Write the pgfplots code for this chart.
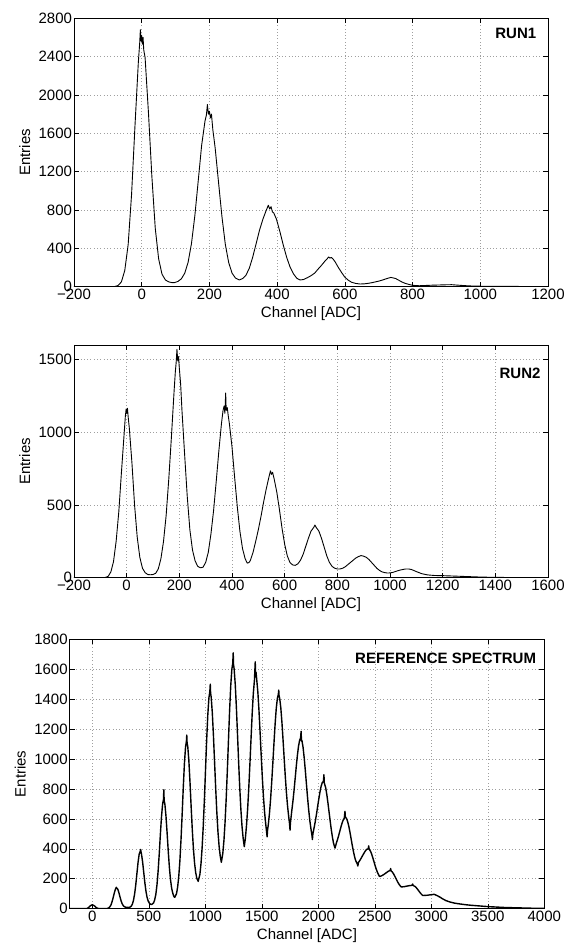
\documentclass[border=0pt]{standalone}
\usepackage{pgfplots}
\pgfplotsset{compat=1.18}
\usepackage{fontspec}
\setmainfont{Liberation Sans}
\newcommand{\fs}{\fontsize{15}{18}\selectfont}
\pgfplotsset{
 base/.style={
  scale only axis, anchor=south west,
  font=\fs,
  tick label style={font=\fs},
  label style={font=\fs},
  /pgf/number format/assume math mode=true,
  /pgf/number format/1000 sep={},
  scaled ticks=false,
  tick align=inside, major tick length=5pt,
  tick style={black, line width=0.6pt},
  axis line style={line width=0.8pt},
  grid=major,
  major grid style={gray!75, line width=0.6pt, dash pattern=on 0.7pt off 2.6pt},
  xticklabel style={yshift=1.5pt},
  yticklabel style={xshift=1.5pt},
  every axis x label/.style={at={(axis description cs:0.5,0)}, anchor=base, yshift=-31pt},
  every axis y label/.style={at={(axis description cs:-0.104,0.5)}, rotate=90, anchor=center},
  xlabel={Channel [ADC]}, ylabel={Entries},
 }
}
\begin{document}
\begin{tikzpicture}
\path[use as bounding box] (0,0) rectangle (566pt,943pt);
% ---------------- RUN1
\begin{axis}[base, at={(74pt,656.3pt)}, width=474pt, height=268.4pt,
  xmin=-200, xmax=1200, ymin=0, ymax=2800,
  xtick={-200,0,200,400,600,800,1000,1200},
  xticklabels={−200,0,200,400,600,800,1000,1200},
  ytick={0,400,800,1200,1600,2000,2400,2800}]
\addplot[black, line width=0.9pt, line join=round] coordinates {
(-200,0) (-90,0) (-80,2) (-70,12) (-60,50) (-50,170) (-40,440) (-30,960) (-20,1670) (-10,2340) (-6,2540) (-4,2680) (-2,2560) (0,2620) (2,2530) (4,2600) (6,2470) (10,2390) (20,1810) (30,1150) (40,610) (50,290) (60,130) (70,70) (80,50) (90,42) (97,43) (107,55) (117,82) (127,140) (137,254) (147,451) (157,743) (167,1107) (177,1475) (187,1730) (191,1790) (194,1900) (197,1800) (200,1830) (203,1760) (206,1800) (210,1640) (217,1445) (227,1085) (237,730) (247,440) (257,250) (267,140) (277,90) (288,70) (298,85) (308,120) (318,195) (328,310) (338,450) (348,590) (358,705) (366,780) (370,815) (374,850) (378,810) (382,835) (386,780) (390,770) (398,704) (408,576) (418,435) (428,308) (438,207) (448,135) (458,88) (468,70) (478,75) (490,95) (500,115) (511,142) (520,180) (531,223) (540,262) (548,292) (552,310) (556,298) (560,305) (566,285) (572,255) (580,205) (590,150) (600,99) (610,68) (620,46) (632,34) (645,28) (658,30) (669,35) (680,42) (690,50) (699,57) (710,68) (720,80) (729,90) (736,97) (742,92) (750,85) (758,70) (768,50) (778,35) (788,25) (798,16) (808,12) (820,10) (840,13) (860,16) (880,18) (900,20) (915,21) (930,17) (950,12) (970,8) (990,6) (1010,4) (1050,3) (1100,3) (1130,2) (1150,0) (1200,0)
};
\node[anchor=east, inner sep=0pt, font=\bfseries\fs] at (rel axis cs:0.9755,0.944) {RUN1};
\end{axis}
% ---------------- RUN2
\begin{axis}[base, at={(74pt,365.3pt)}, width=474pt, height=232.7pt,
  xmin=-200, xmax=1600, ymin=0, ymax=1600,
  xtick={-200,0,200,400,600,800,1000,1200,1400,1600},
  xticklabels={−200,0,200,400,600,800,1000,1200,1400,1600},
  ytick={0,500,1000,1500}]
\addplot[black, line width=0.9pt, line join=round] coordinates {
(-200,0) (-90,0) (-80,2) (-70,10) (-60,40) (-50,110) (-40,250) (-30,450) (-20,720) (-10,980) (-5,1110) (-2,1160) (0,1130) (3,1165) (6,1100) (10,1030) (20,790) (30,500) (40,280) (50,140) (60,65) (70,35) (80,22) (90,20) (100,22) (110,30) (120,60) (130,130) (140,250) (150,430) (160,680) (170,970) (180,1280) (185,1420) (188,1480) (191,1570) (194,1490) (197,1520) (200,1440) (205,1330) (210,1150) (220,850) (230,560) (240,330) (250,190) (260,115) (270,78) (280,68) (290,72) (300,105) (310,175) (320,300) (330,460) (340,660) (350,870) (360,1060) (366,1150) (370,1180) (373,1130) (376,1270) (378,1150) (382,1170) (386,1110) (390,1060) (400,900) (410,690) (420,490) (430,320) (440,200) (450,130) (458,100) (465,105) (470,120) (480,175) (490,250) (500,330) (510,420) (520,520) (530,610) (540,690) (546,735) (550,710) (554,725) (560,680) (570,590) (580,470) (590,340) (600,230) (610,150) (620,105) (630,88) (640,85) (650,95) (660,120) (670,160) (680,215) (690,270) (700,320) (710,345) (715,362) (720,345) (730,320) (740,270) (750,210) (760,150) (770,105) (780,78) (790,65) (800,60) (810,60) (820,65) (830,75) (840,90) (850,105) (860,120) (870,135) (880,145) (890,152) (900,148) (910,140) (920,125) (930,105) (940,85) (950,65) (960,50) (970,40) (980,35) (990,32) (1000,33) (1010,36) (1020,42) (1030,48) (1040,53) (1050,57) (1060,60) (1070,60) (1080,57) (1090,50) (1100,42) (1110,35) (1120,28) (1130,24) (1140,20) (1150,18) (1170,15) (1200,14) (1230,12) (1260,10) (1290,8) (1320,6) (1350,4) (1380,3) (1420,2) (1460,1) (1500,1) (1550,0) (1600,0)
};
\node[anchor=east, inner sep=0pt, font=\bfseries\fs] at (rel axis cs:0.9846,0.878) {RUN2};
\end{axis}
% ---------------- REFERENCE SPECTRUM
\begin{axis}[base, at={(69.7pt,34.3pt)}, width=474.6pt, height=269.4pt,
  xmin=-200, xmax=4000, ymin=0, ymax=1800,
  xtick={0,500,1000,1500,2000,2500,3000,3500,4000},
  ytick={0,200,400,600,800,1000,1200,1400,1600,1800}]
\addplot[black, line width=1.4pt, line join=round] coordinates {
(-200,0) (-60,0) (-50,1) (-40,4) (-30,10) (-20,18) (-10,23) (0,26) (10,23) (20,18) (30,11) (40,5) (50,2) (60,1) (80,0) (120,0) (135,2) (145,5) (155,12) (165,25) (175,47) (185,75) (195,106) (205,131) (213,143) (215,138) (225,131) (235,108) (245,79) (255,52) (265,32) (275,19) (285,13) (295,10) (305,9) (318,8) (335,11) (345,17) (355,31) (365,58) (375,101) (385,162) (395,236) (405,310) (415,365) (425,385) (428,396) (431,380) (435,366) (445,314) (455,244) (465,174) (475,116) (485,75) (495,50) (505,37) (515,30) (525,28) (542,38) (552,59) (562,95) (572,156) (582,246) (592,361) (602,491) (612,611) (622,698) (630,730) (633,795) (636,720) (642,701) (652,619) (662,507) (672,386) (682,278) (692,195) (702,138) (712,104) (722,82) (730,76) (745,100) (755,143) (765,214) (775,318) (785,460) (795,628) (805,808) (815,967) (825,1079) (833,1120) (836,1160) (839,1105) (845,1083) (855,983) (865,839) (875,677) (885,526) (895,399) (905,305) (915,241) (925,203) (937,183) (952,228) (962,301) (972,409) (982,553) (992,730) (1002,928) (1012,1125) (1022,1294) (1032,1409) (1040,1450) (1044,1500) (1047,1440) (1052,1414) (1062,1310) (1072,1158) (1082,981) (1092,804) (1102,645) (1112,515) (1122,418) (1132,353) (1142,310) (1155,370) (1165,456) (1175,579) (1185,736) (1195,922) (1205,1124) (1215,1322) (1225,1488) (1235,1600) (1243,1640) (1247,1710) (1250,1630) (1255,1603) (1265,1500) (1275,1347) (1285,1165) (1295,979) (1305,807) (1315,662) (1325,550) (1335,470) (1345,415) (1355,473) (1365,559) (1375,670) (1385,810) (1395,970) (1405,1141) (1415,1304) (1425,1439) (1435,1528) (1442,1650) (1445,1550) (1449,1580) (1455,1531) (1465,1449) (1475,1325) (1485,1176) (1495,1019) (1505,872) (1515,744) (1525,642) (1535,564) (1543,510) (1547,480) (1551,525) (1558,564) (1568,638) (1578,734) (1588,849) (1598,977) (1608,1110) (1618,1235) (1628,1339) (1638,1407) (1646,1430) (1650,1460) (1653,1420) (1658,1408) (1668,1344) (1678,1247) (1688,1129) (1698,1004) (1708,883) (1718,775) (1728,685) (1738,616) (1746,565) (1750,525) (1753,570) (1765,652) (1775,715) (1785,788) (1795,868) (1805,950) (1815,1025) (1825,1086) (1835,1126) (1843,1140) (1848,1185) (1851,1120) (1855,1124) (1865,1079) (1875,1010) (1885,925) (1895,833) (1905,742) (1915,660) (1925,589) (1935,533) (1944,490) (1948,462) (1952,500) (1965,549) (1975,590) (1985,637) (1995,687) (2005,736) (2015,781) (2025,818) (2035,842) (2045,850) (2050,895) (2053,840) (2065,810) (2075,765) (2085,709) (2095,648) (2105,586) (2115,528) (2125,478) (2135,437) (2148,405) (2160,439) (2170,462) (2180,488) (2190,517) (2200,545) (2210,571) (2220,592) (2230,605) (2236,650) (2240,610) (2250,603) (2260,582) (2270,551) (2280,512) (2290,469) (2300,426) (2310,386) (2320,351) (2330,323) (2345,300) (2350,285) (2355,308) (2372,328) (2382,341) (2392,355) (2402,368) (2412,381) (2422,391) (2432,398) (2442,400) (2446,420) (2450,398) (2462,384) (2472,365) (2482,341) (2492,316) (2502,290) (2512,266) (2522,246) (2532,229) (2542,215) (2555,218) (2565,222) (2575,226) (2585,231) (2595,237) (2605,242) (2615,248) (2625,252) (2635,255) (2640,268) (2645,252) (2655,245) (2665,234) (2675,220) (2685,205) (2695,190) (2705,175) (2715,163) (2725,153) (2735,145) (2765,148) (2785,151) (2805,154) (2830,156) (2835,165) (2840,155) (2855,149) (2865,142) (2875,133) (2885,123) (2895,113) (2905,103) (2915,95) (2925,88) (2945,89) (2965,90) (2985,92) (3005,94) (3025,96) (3035,93) (3050,88) (3075,78) (3100,66) (3130,54) (3160,46) (3200,38) (3250,32) (3300,27) (3350,23) (3400,20) (3450,17) (3500,14) (3550,12) (3600,10) (3650,8) (3700,7) (3750,6) (3800,5) (3850,4) (3900,3) (3950,2) (4000,2)
};
\node[anchor=east, inner sep=0pt, font=\bfseries\fs] at (rel axis cs:0.983,0.9295) {REFERENCE SPECTRUM};
\end{axis}
\end{tikzpicture}
\end{document}
